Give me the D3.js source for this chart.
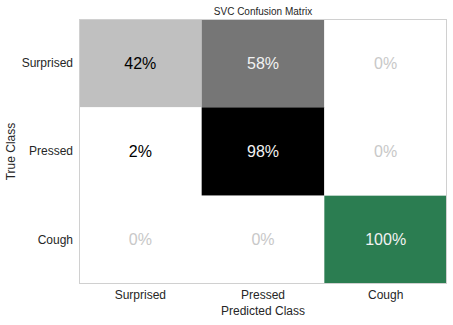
<!DOCTYPE html>
<html><head><meta charset="utf-8">
<script src="https://cdn.jsdelivr.net/npm/d3@7"></script>
<style>body{margin:0;background:#fff}svg{display:block;font-family:"Liberation Sans",Arial,sans-serif}</style>
</head><body><svg id="c" width="453" height="325"></svg>
<script>
const classes = ["Surprised", "Pressed", "Cough"];
const trueClasses = ["Surprised", "Pressed", "Cough"];
const values = [
  [42, 58, 0],
  [2, 98, 0],
  [0, 0, 100]
];
const title = "SVC Confusion Matrix";
const xLabel = "Predicted Class";
const yLabel = "True Class";

const svg = d3.select("#c");
const m = {l: 79, r: 6, t: 19, b: 41};
const W = 453, H = 325;
const x = d3.scaleBand().domain(classes).range([m.l, W - m.r]);
const y = d3.scaleBand().domain(trueClasses).range([m.t, H - m.b]);
const grey = d3.scaleLinear().domain([0, 2, 42, 58, 98]).range(["#ffffff", "#ffffff", "#c0c0c0", "#767676", "#000000"]).clamp(true);

const cells = [];
trueClasses.forEach((t, i) => classes.forEach((p, j) => cells.push({t, p, v: values[i][j], diagCough: t === "Cough" && p === "Cough"})));

function fill(d) {
  if (d.diagCough) return "#2b7d51";
  return grey(d.v);
}
function tcol(d) {
  if (d.v === 0) return "#c8c8c8";
  if (d.diagCough || d.v > 50) return "#f2f2f2";
  return "#000";
}

svg.selectAll("rect.cell").data(cells).join("rect")
  .attr("x", d => x(d.p)).attr("y", d => y(d.t))
  .attr("width", x.bandwidth()).attr("height", y.bandwidth())
  .attr("fill", fill);

svg.append("rect").attr("x", m.l + 0.5).attr("y", m.t + 0.5)
  .attr("width", W - m.r - m.l - 1).attr("height", H - m.b - m.t - 1)
  .attr("fill", "none").attr("stroke", "#d0d0d0");

svg.selectAll("text.ann").data(cells).join("text")
  .attr("x", d => x(d.p) + x.bandwidth() / 2)
  .attr("y", d => y(d.t) + y.bandwidth() / 2)
  .attr("text-anchor", "middle").attr("dominant-baseline", "central")
  .attr("font-size", 16).attr("fill", tcol)
  .text(d => d.v + "%");

const xa = d3.axisBottom(x).tickSize(0).tickPadding(6);
svg.append("g").attr("transform", `translate(0,${H - m.b})`).call(xa)
  .call(g => g.select(".domain").remove())
  .selectAll("text").attr("font-size", 12).attr("fill", "#262626").attr("font-family", "Liberation Sans, Arial, sans-serif");
const ya = d3.axisLeft(y).tickSize(0).tickPadding(6);
svg.append("g").attr("transform", `translate(${m.l},0)`).call(ya)
  .call(g => g.select(".domain").remove())
  .selectAll("text").attr("font-size", 12).attr("fill", "#262626").attr("font-family", "Liberation Sans, Arial, sans-serif");

svg.append("text").attr("x", (m.l + W - m.r) / 2).attr("y", 11)
  .attr("text-anchor", "middle").attr("dominant-baseline", "central")
  .attr("font-size", 10).attr("fill", "#262626").text(title);
svg.append("text").attr("x", (m.l + W - m.r) / 2).attr("y", 311)
  .attr("text-anchor", "middle").attr("dominant-baseline", "central")
  .attr("font-size", 12).attr("fill", "#262626").text(xLabel);
svg.append("text").attr("transform", `translate(11,${(m.t + H - m.b) / 2}) rotate(-90)`)
  .attr("text-anchor", "middle").attr("dominant-baseline", "central")
  .attr("font-size", 12).attr("fill", "#262626").text(yLabel);
</script></body></html>
